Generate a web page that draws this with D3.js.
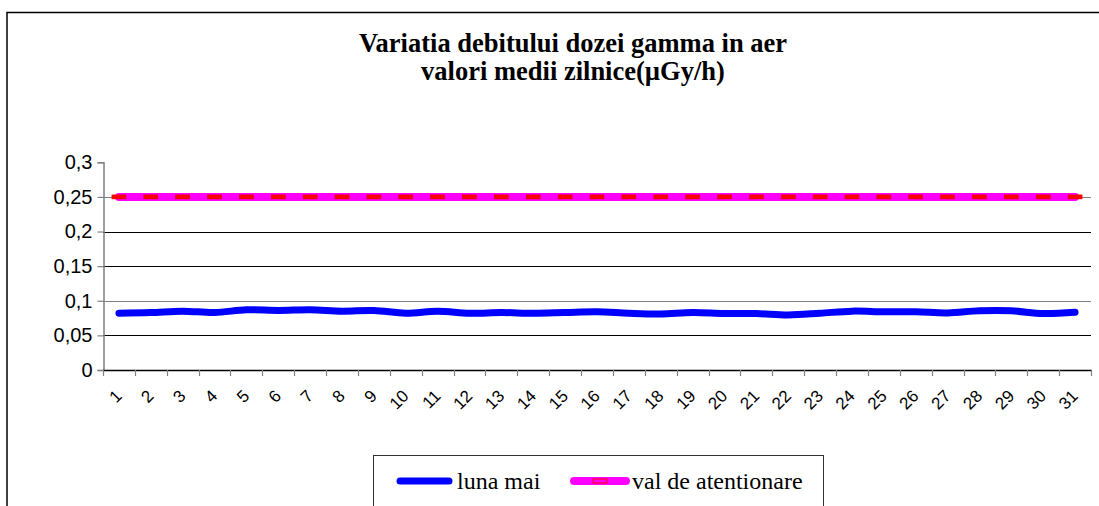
<!DOCTYPE html>
<html>
<head>
<meta charset="utf-8">
<script src="https://cdn.jsdelivr.net/npm/d3@7"></script>
<style>
  html, body { margin: 0; padding: 0; background: #fff; }
  svg { display: block; }
  .serif { font-family: "Liberation Serif", "Times New Roman", Times, serif; }
  .sans { font-family: "Liberation Sans", Arial, Helvetica, sans-serif; }
</style>
</head>
<body>
<svg id="chart" width="1099" height="506"></svg>
<script>
const titleLines = ["Variatia debitului dozei gamma in aer", "valori medii zilnice(µGy/h)"];
const days = ["1","2","3","4","5","6","7","8","9","10","11","12","13","14","15","16","17","18","19","20","21","22","23","24","25","26","27","28","29","30","31"];
const lunaMai = [0.082,0.083,0.085,0.083,0.087,0.086,0.087,0.085,0.086,0.082,0.085,0.082,0.083,0.082,0.083,0.084,0.082,0.081,0.083,0.0815,0.0815,0.0795,0.082,0.085,0.084,0.084,0.0825,0.0855,0.0855,0.0815,0.0835];
const valAtentionare = [0.25,0.25,0.25,0.25,0.25,0.25,0.25,0.25,0.25,0.25,0.25,0.25,0.25,0.25,0.25,0.25,0.25,0.25,0.25,0.25,0.25,0.25,0.25,0.25,0.25,0.25,0.25,0.25,0.25,0.25,0.25];
const yTicks = [0, 0.05, 0.1, 0.15, 0.2, 0.25, 0.3];
const yTickLabels = ["0", "0,05", "0,1", "0,15", "0,2", "0,25", "0,3"];
const seriesNames = ["luna mai", "val de atentionare"];

const svg = d3.select("#chart");
const plot = { left: 103, right: 1091, top: 162.3, bottom: 370 };

// outer chart border
svg.append("path")
  .attr("d", `M7,510 L7,12.5 L1105,12.5`)
  .attr("fill", "none").attr("stroke", "#000").attr("stroke-width", 1.5);

// title
titleLines.forEach((t, i) => {
  svg.append("text").attr("class", "serif")
    .attr("text-anchor", "middle")
    .attr("font-weight", "bold").attr("font-size", 26.5).attr("fill", "#000")
    .attr("x", 573).attr("y", 52 + i * 28).text(t);
});

const x = d3.scaleBand().domain(days).range([plot.left, plot.right]).padding(0);
const cx = d => x(d) + x.bandwidth() / 2;
const y = d3.scaleLinear().domain([0, 0.3]).range([plot.bottom, plot.top]);

// gridlines
const gridColor = v => (Math.abs(v - 0.1) < 1e-9 || Math.abs(v - 0.25) < 1e-9) ? "#808080" : "#000";
svg.append("g").selectAll("line")
  .data(yTicks.filter(v => v > 0 && v < 0.3))
  .join("line")
  .attr("x1", plot.left).attr("x2", plot.right)
  .attr("y1", d => Math.round(y(d)) + 0.5).attr("y2", d => Math.round(y(d)) + 0.5)
  .attr("stroke", d => gridColor(d)).attr("stroke-width", 1.2);

// y axis
const yAxis = d3.axisLeft(y).tickValues(yTicks).tickSize(6).tickPadding(5)
  .tickFormat((d, i) => yTickLabels[i]);
const gy = svg.append("g").attr("transform", `translate(${plot.left + 0.5},0)`).call(yAxis);
gy.attr("font-family", null);
gy.select(".domain").attr("stroke", "#808080").attr("stroke-width", 1.5);
gy.selectAll(".tick line").attr("stroke", "#808080").attr("stroke-width", 1.2);
gy.selectAll(".tick text").attr("class", "sans")
  .attr("font-size", 20).attr("fill", "#000");

// x axis
svg.append("line")
  .attr("x1", plot.left).attr("x2", plot.right + 1)
  .attr("y1", plot.bottom + 0.5).attr("y2", plot.bottom + 0.5)
  .attr("stroke", "#000").attr("stroke-width", 1.5);
const tickPos = days.map(d => x(d)).concat([x.range()[1]]);
svg.append("g").selectAll("line").data(tickPos).join("line")
  .attr("x1", d => Math.round(d) + 0.5).attr("x2", d => Math.round(d) + 0.5)
  .attr("y1", plot.bottom).attr("y2", plot.bottom + 6)
  .attr("stroke", "#808080").attr("stroke-width", 1.2);
svg.append("g").selectAll("text").data(days).join("text")
  .attr("class", "sans")
  .attr("transform", d => `translate(${cx(d) + 4},${plot.bottom + 27}) rotate(-45)`)
  .attr("text-anchor", "end")
  .attr("font-size", 17).attr("fill", "#000")
  .text(d => d);

// attention line
const lineGen = d3.line().x((d, i) => cx(days[i])).y(d => y(d));
svg.append("path")
  .attr("d", lineGen(valAtentionare))
  .attr("fill", "none").attr("stroke", "#FF00FF").attr("stroke-width", 8)
  .attr("stroke-linecap", "round");
svg.append("g").selectAll("rect").data(valAtentionare).join("rect")
  .attr("x", (d, i) => cx(days[i]) - 7).attr("y", d => y(d) - 2)
  .attr("width", 14).attr("height", 4)
  .attr("fill", "#FF0000").attr("stroke", "#E00000").attr("stroke-width", 0.6);

// blue series
const smooth = d3.line().x((d, i) => cx(days[i])).y(d => y(d)).curve(d3.curveCatmullRom.alpha(0.5));
svg.append("path")
  .attr("d", smooth(lunaMai))
  .attr("fill", "none").attr("stroke", "#0000FF").attr("stroke-width", 7)
  .attr("stroke-linecap", "round").attr("stroke-linejoin", "round");

// legend
const lg = svg.append("g");
lg.append("rect").attr("x", 373.5).attr("y", 455.5).attr("width", 450).attr("height", 52)
  .attr("fill", "#fff").attr("stroke", "#333").attr("stroke-width", 1);
const legY = 481;
lg.append("line").attr("x1", 400).attr("x2", 449).attr("y1", legY).attr("y2", legY)
  .attr("stroke", "#0000FF").attr("stroke-width", 7).attr("stroke-linecap", "round");
lg.append("text").attr("class", "serif").attr("x", 457).attr("y", legY + 8)
  .attr("font-size", 24).attr("fill", "#000").text(seriesNames[0]);
lg.append("line").attr("x1", 574).attr("x2", 626).attr("y1", legY).attr("y2", legY)
  .attr("stroke", "#FF00FF").attr("stroke-width", 8).attr("stroke-linecap", "round");
lg.append("rect").attr("x", 593).attr("y", legY - 2).attr("width", 14).attr("height", 4)
  .attr("fill", "none").attr("stroke", "#FF0000").attr("stroke-width", 1);
lg.append("text").attr("class", "serif").attr("x", 632).attr("y", legY + 8)
  .attr("font-size", 24).attr("fill", "#000").text(seriesNames[1]);
</script>
</body>
</html>
